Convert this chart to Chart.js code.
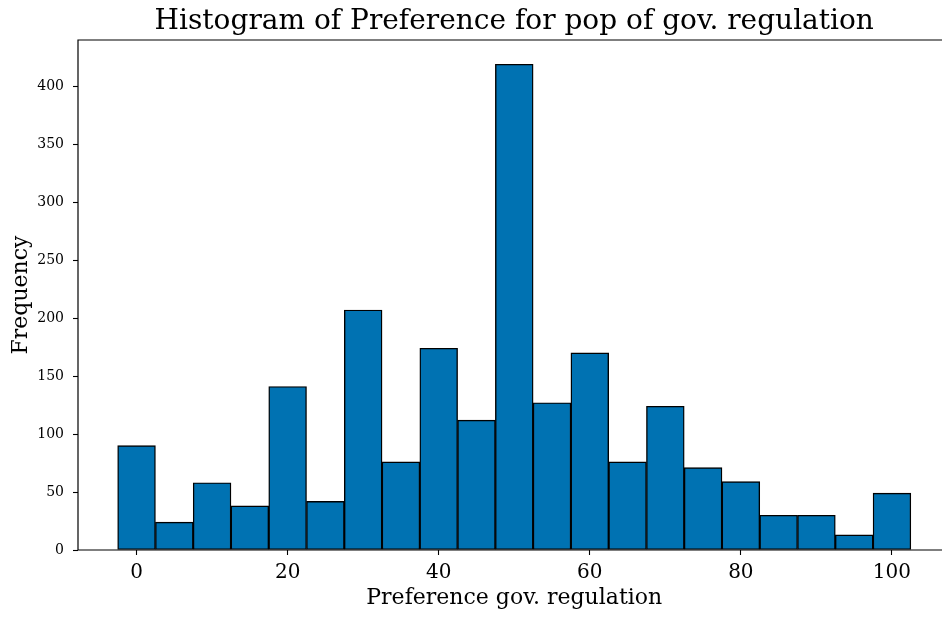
<!DOCTYPE html>
<html>
<head>
<meta charset="utf-8">
<script src="https://cdn.jsdelivr.net/npm/chart.js@4/dist/chart.umd.min.js"></script>
<style>
  html, body { margin: 0; padding: 0; background: #fff; overflow: hidden; }
  #wrap { width: 952px; height: 617px; }
</style>
</head>
<body>
<div id="wrap"><canvas id="c" width="952" height="617"></canvas></div>
<script>
// Histogram bins: left edges, width 5
const binStarts = [-2.5, 2.5, 7.5, 12.5, 17.5, 22.5, 27.5, 32.5, 37.5, 42.5, 47.5,
                   52.5, 57.5, 62.5, 67.5, 72.5, 77.5, 82.5, 87.5, 92.5, 97.5];
const binWidth = 5;
const frequencies = [90, 24, 58, 38, 141, 42, 207, 76, 174, 112, 419,
                     127, 170, 76, 124, 71, 59, 30, 30, 13, 49];
const xTicks = [0, 20, 40, 60, 80, 100];
const yTicks = [0, 50, 100, 150, 200, 250, 300, 350, 400];

const titleText = 'Histogram of Preference for pop of gov. regulation';
const xLabel = 'Preference gov. regulation';
const yLabel = 'Frequency';

const FONT = "'DejaVu Serif', serif";

// Axis limits with a 5% margin around the data
const xMin = binStarts[0], xMax = binStarts[binStarts.length - 1] + binWidth;
const xPad = (xMax - xMin) * 0.05;
const yTop = Math.max(...frequencies) * 1.05;

const points = binStarts.map((s, i) => ({ x: s + binWidth / 2, y: frequencies[i] }));

// Left, top and bottom frame lines
const framePlugin = {
  id: 'frame',
  afterDatasetsDraw(chart) {
    const { ctx, chartArea: a } = chart;
    ctx.save();
    ctx.strokeStyle = '#000';
    ctx.lineWidth = 1.2;
    ctx.beginPath();
    ctx.moveTo(a.right, a.top);
    ctx.lineTo(a.left, a.top);
    ctx.lineTo(a.left, a.bottom);
    ctx.lineTo(a.right, a.bottom);
    ctx.stroke();
    ctx.restore();
  }
};

new Chart(document.getElementById('c'), {
  type: 'bar',
  data: {
    datasets: [{
      data: points,
      backgroundColor: '#0072B2',
      borderColor: '#000',
      borderWidth: 1.4,
      barPercentage: 1,
      categoryPercentage: 1,
      borderSkipped: false
    }]
  },
  options: {
    responsive: false,
    animation: false,
    layout: { padding: { top: 0, right: 1.5, bottom: 0, left: 0 } },
    plugins: {
      legend: { display: false },
      tooltip: { enabled: false },
      title: {
        display: true,
        fullSize: false,
        text: titleText,
        color: '#000',
        font: { family: FONT, size: 28, weight: 'normal', lineHeight: 1.2 },
        padding: { top: 5, bottom: 1.4 }
      }
    },
    scales: {
      x: {
        type: 'linear',
        offset: false,
        min: xMin - xPad,
        max: xMax + xPad,
        afterBuildTicks(axis) { axis.ticks = xTicks.map(v => ({ value: v })); },
        afterFit(axis) { axis.height = 67; },
        grid: { display: true, offset: false, drawOnChartArea: false, drawTicks: true, tickLength: 5, color: '#000', tickWidth: 1.1 },
        border: { display: false },
        ticks: { color: '#000', font: { family: FONT, size: 20 }, padding: 6, maxRotation: 0 },
        title: { display: true, text: xLabel, color: '#000', font: { family: FONT, size: 22 }, padding: { top: 0, bottom: 6 } }
      },
      y: {
        type: 'linear',
        min: 0,
        max: yTop,
        afterBuildTicks(axis) { axis.ticks = yTicks.map(v => ({ value: v })); },
        afterFit(axis) { axis.width = 78; },
        grid: { display: true, drawOnChartArea: false, drawTicks: true, tickLength: 5, color: '#000', tickWidth: 1.1 },
        border: { display: false },
        ticks: { color: '#000', font: { family: FONT, size: 14 }, padding: 9 },
        title: { display: true, text: yLabel, color: '#000', font: { family: FONT, size: 22 }, padding: { top: 8, bottom: 0 } }
      }
    }
  },
  plugins: [framePlugin]
});
</script>
</body>
</html>
